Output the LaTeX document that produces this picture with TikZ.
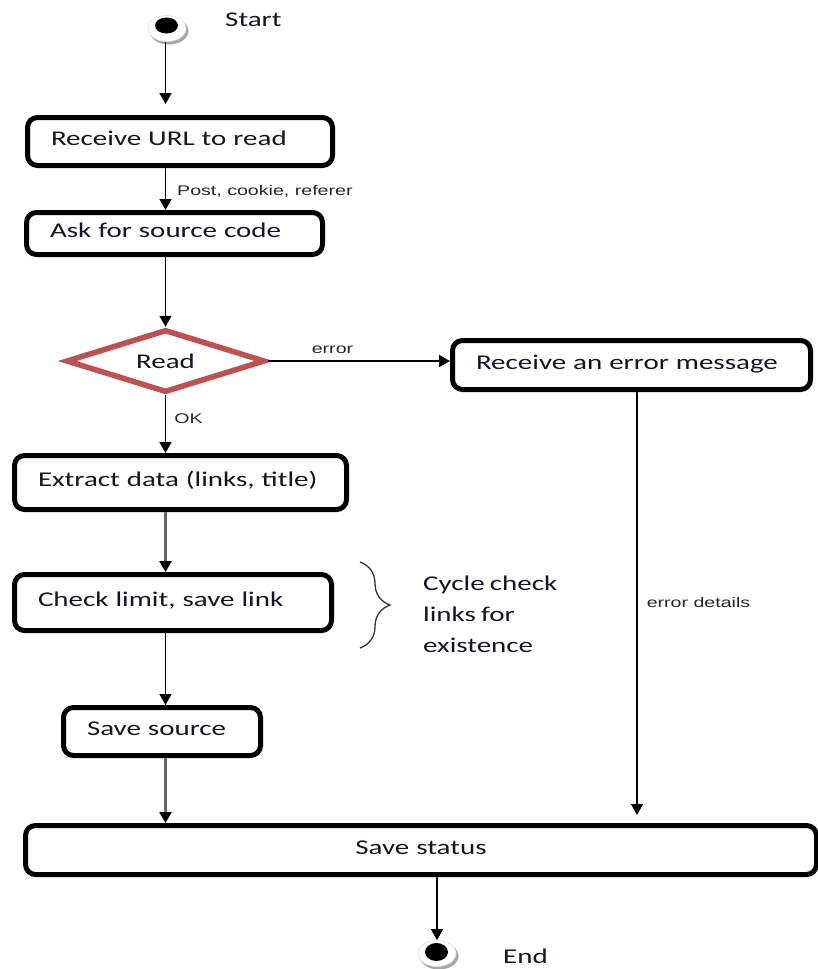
\documentclass[tikz,border=0pt]{standalone}
\usepackage{fontspec}
\setmainfont{Carlito}[FakeStretch=1.38, WordSpace=0.8]
\newfontfamily\lblfont{Liberation Sans}[FakeStretch=1.4]
\usetikzlibrary{shapes.geometric,arrows.meta,decorations.pathreplacing}
\definecolor{txt}{RGB}{20,20,40}
\definecolor{dred}{RGB}{192,80,77}
\begin{document}
\begin{tikzpicture}[x=1pt,y=-1pt,
  box/.style={draw=black, line width=5pt, rounded corners=10pt, fill=white,
    inner xsep=23.5pt, inner ysep=0pt, align=left, text=txt,
    font=\fontsize{21}{25}\selectfont, text height=13pt, text depth=5pt},
  lbl/.style={font=\lblfont\fontsize{14}{16}\selectfont, text=black!85, inner sep=0pt},
  big/.style={font=\fontsize{21}{31}\selectfont, text=txt, inner sep=0pt},
  arr/.style={draw=black, line width=1.5pt, -{Triangle[length=11pt,width=12pt]}},
  garr/.style={draw=black!60, line width=2.6pt, -{Triangle[length=11pt,width=12pt,color=black]}},
  ring/.style={ellipse, fill=white, draw=black!12, line width=0.6pt, inner sep=0pt, minimum width=38pt, minimum height=26pt},
  shadow/.style={ellipse, fill=black!35, inner sep=0pt, minimum width=39pt, minimum height=27pt},
  dot/.style={ellipse, fill=black, inner sep=0pt, minimum width=23pt, minimum height=16pt}
]
\useasboundingbox (0,0) rectangle (818,969);

% start
\node[shadow] (starts) at (169,31) {};
\node[ring] (start) at (167,28.5) {};
\node[dot] (startd) at (166.5,25.5) {};
\node[big, anchor=base west] (startl) at (225,27) {Start};

% boxes
\node[box, minimum width=305pt, minimum height=48pt, text width=258pt] (b1) at (180,141.5) {Receive URL to read};
\node[box, minimum width=296pt, minimum height=42pt, text width=249pt] (b2) at (174.5,233.5) {Ask for source code};
\node[diamond, draw=dred, line width=5.5pt, aspect=3, minimum width=199pt, minimum height=63pt,
  inner sep=0pt, font=\fontsize{21}{25}\selectfont, text=txt, fill=white] (rd) at (165.5,361) {Read};
\node[box, minimum width=358pt, minimum height=49pt, text width=311pt] (err) at (631.5,365) {Receive an error message};
\node[box, minimum width=332pt, minimum height=54pt, text width=285pt] (ext) at (180.5,482.5) {Extract data (links, title)};
\node[box, minimum width=317pt, minimum height=56pt, text width=270pt] (chk) at (173,602.5) {Check limit, save link};
\node[box, minimum width=197pt, minimum height=48pt, text width=150pt] (src) at (162,731.5) {Save source};
\node[box, align=center, minimum width=791pt, minimum height=49pt, text width=744pt] (sts) at (421,850) {Save status};

% end
\node[shadow] (ends) at (439,956) {};
\node[ring] (endr) at (437,953.5) {};
\node[dot, minimum height=18pt] (endd) at (436.5,952) {};
\node[big, anchor=base west] (endl) at (503,963) {End};

% brace and note
\draw[line width=1.3pt, black!80, decorate, decoration={brace, amplitude=30pt}] (360,562) -- (360,648);
\node[big, anchor=north west, align=left] (cyc) at (423,575.5) {Cycle check\\links for\\existence};

% connectors
\draw[arr, shorten >=11pt] (start.south -| rd) -- (rd |- b1.north);
\draw[arr] (rd |- b1.south) -- (rd |- b2.north);
\node[lbl, anchor=base west] (l1) at (177,195) {Post, cookie, referer};
\draw[arr] (rd |- b2.south) -- (rd.north);
\draw[arr] (rd.east) -- (rd.east -| err.west);
\node[lbl, anchor=base] (l2) at (332.5,353) {error};
\draw[arr] (rd.south) -- (rd |- ext.north);
\node[lbl, anchor=base] (l3) at (188.5,423) {OK};
\draw[garr] (rd |- ext.south) -- (rd |- chk.north);
\draw[arr] (rd |- chk.south) -- (rd |- src.north);
\draw[garr] (rd |- src.south) -- (rd |- sts.north);
\coordinate (errend) at (637,815);
\draw[arr] (errend |- err.south) -- (errend);
\node[lbl, anchor=base] (l4) at (698.5,607) {error details};
\draw[arr] (endr.north |- sts.south) -- (endr.north);
\end{tikzpicture}
\end{document}
